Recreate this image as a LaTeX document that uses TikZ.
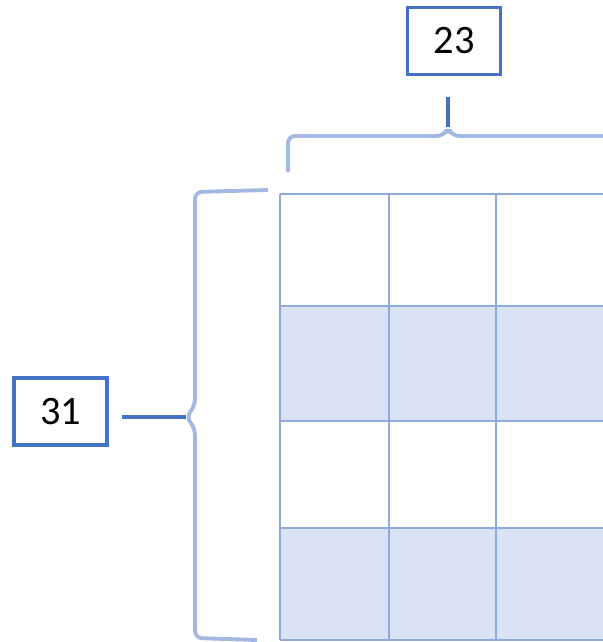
\documentclass[tikz,border=0pt]{standalone}
\usepackage{fontspec}
\setmainfont{Carlito}
\usepackage{tikz}
\definecolor{boxblue}{HTML}{4472C4}
\definecolor{gridblue}{HTML}{8FAADC}
\definecolor{braceblue}{HTML}{A3B8E2}
\definecolor{cellfill}{HTML}{DAE3F3}
\tikzstyle{countbox} = [rectangle, draw=boxblue, line width=1.8pt, minimum width=1.86cm, minimum height=1.34cm, text centered, font=\fontsize{23}{27}\selectfont]
\tikzstyle{gridline} = [draw=gridblue, line width=1.6pt]
\tikzstyle{bracket} = [draw=braceblue, line width=2.2pt, rounded corners=4pt]
\tikzstyle{tipline} = [draw=boxblue, line width=2pt]

\begin{document}
\begin{tikzpicture}[x=0.02cm, y=-0.02cm]
\useasboundingbox (0,0) rectangle (602,642);
% shaded rows
\fill[cellfill] (280,306) rectangle (620,421);
\fill[cellfill] (280,528) rectangle (620,640);
% grid
\foreach \y in {194,306,421,528,640}
  \draw [gridline] (280,\y) -- (620,\y);
\foreach \x in {280,389,496}
  \draw [gridline] (\x,194) -- (\x,640);
% counts
\node (colcount) [countbox] at (454,41) {23};
\node (rowcount) [countbox] at (60.5,411.5) {31};
% braces
\coordinate (toptip) at (448,127);
\coordinate (topend) at (448,97);
\coordinate (lefttip) at (186,417);
\coordinate (leftend) at (122,417);
\draw [bracket] (288,172) -- (288,136) -- (444,136) -- (toptip) -- (452,136) -- (620,136);
\draw [bracket] (268,190) -- (195,192) -- (195,406) -- (lefttip) -- (195,428) -- (195,638) -- (257,640);
\draw [tipline] (toptip) -- (topend);
\draw [tipline] (lefttip) -- (leftend);
\end{tikzpicture}
\end{document}
